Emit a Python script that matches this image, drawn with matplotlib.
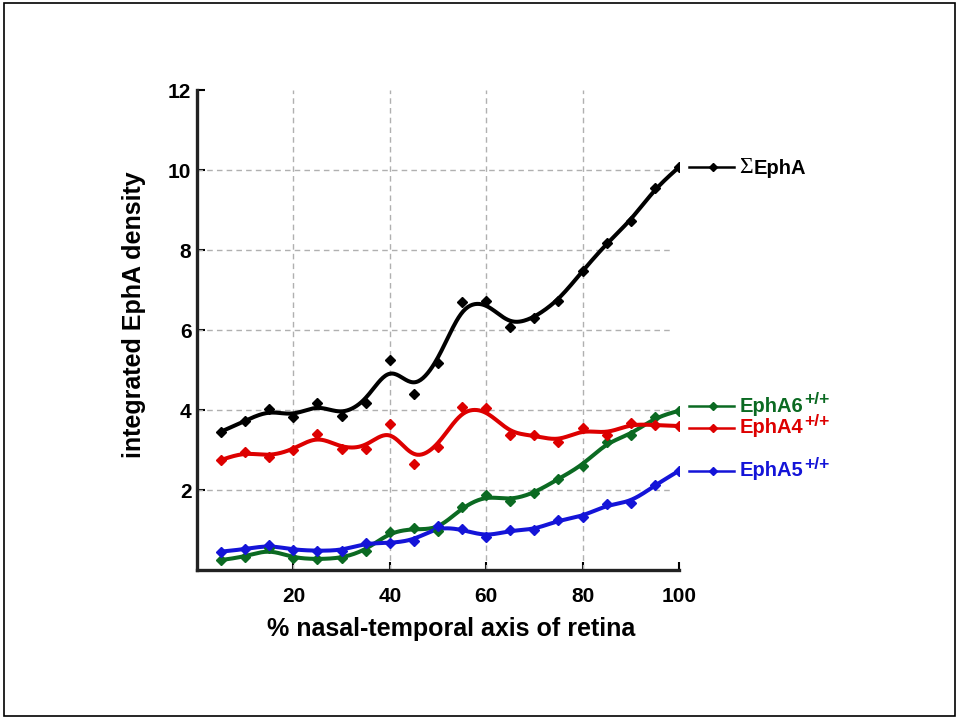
import matplotlib
matplotlib.use("Agg")
import matplotlib.pyplot as plt
import numpy as np
from matplotlib.patches import Rectangle

plt.rcParams["font.family"] = ["Liberation Sans", "DejaVu Sans"]

# % nasal-temporal position
position = [5, 10, 15, 20, 25, 30, 35, 40, 45, 50,
            55, 60, 65, 70, 75, 80, 85, 90, 95, 100]

sum_epha = [3.46, 3.73, 4.02, 3.82, 4.17, 3.85, 4.17, 5.25, 4.40, 5.18,
            6.71, 6.73, 6.07, 6.30, 6.73, 7.48, 8.17, 8.73, 9.54, 10.07]
epha4 = [2.75, 2.96, 2.83, 3.00, 3.40, 3.03, 3.03, 3.65, 2.65, 3.07,
         4.08, 4.04, 3.38, 3.38, 3.19, 3.54, 3.38, 3.67, 3.62, 3.60]
epha6 = [0.25, 0.33, 0.54, 0.29, 0.27, 0.29, 0.48, 0.96, 1.04, 0.98,
         1.58, 1.88, 1.73, 1.92, 2.28, 2.61, 3.20, 3.38, 3.82, 3.98]
epha5 = [0.46, 0.52, 0.63, 0.50, 0.48, 0.48, 0.68, 0.67, 0.73, 1.10,
         1.02, 0.82, 1.00, 1.00, 1.25, 1.33, 1.64, 1.68, 2.12, 2.48]

# values, colour, prefix, label, superscript, label height
series = [
    (sum_epha, "black", "Σ", "EphA", "", 10.07),
    (epha6, "#0b6a22", "", "EphA6", "+/+", 4.1),
    (epha4, "#dd0000", "", "EphA4", "+/+", 3.56),
    (epha5, "#1414d8", "", "EphA5", "+/+", 2.48),
]

xticks = [20, 40, 60, 80, 100]
yticks = [2, 4, 6, 8, 10, 12]


def smooth(x, y, grid, h=3.1):
    # gaussian-weighted local linear fit
    x = np.asarray(x, float)
    y = np.asarray(y, float)
    out = []
    for g in grid:
        w = np.exp(-0.5 * ((x - g) / h) ** 2)
        X = np.vstack([np.ones_like(x), x - g]).T
        W = np.diag(w)
        beta = np.linalg.solve(X.T @ W @ X, X.T @ W @ y)
        out.append(beta[0])
    return np.array(out)


fig = plt.figure(figsize=(9.59, 7.19), dpi=100)
fig.patches.append(Rectangle((0.004, 0.004), 0.992, 0.992, transform=fig.transFigure,
                             fill=False, edgecolor="black", linewidth=1.2))
ax = fig.add_axes([0.2054, 0.2072, 0.5026, 0.6676])

ax.hlines(yticks[:-1], 0, 98.7, colors="#b0b0b0", linestyles=(0, (4, 3)), linewidth=1)
ax.vlines(xticks[:-1], 0, 12, colors="#b0b0b0", linestyles=(0, (4, 3)), linewidth=1)

grid = np.linspace(position[0], position[-1], 400)
for values, color, prefix, name, sup, ly in series:
    ax.plot(grid, smooth(position, values, grid), color=color, linewidth=2.9, zorder=3)
    ax.plot(position, values, linestyle="none", marker="D", markersize=5.5,
            color=color, zorder=4)
    ax.plot([102, 111.5], [ly, ly], color=color, linewidth=1.8, clip_on=False)
    ax.plot([107], [ly], marker="D", markersize=4.5, color=color, clip_on=False)
    if prefix:
        pre = ax.text(112.5, ly, prefix, color=color, fontsize=17,
                      family=["Liberation Serif", "DejaVu Serif"], va="center", ha="left")
        base = ax.annotate(name, xy=(1, 0.45), xycoords=pre, xytext=(0.5, 0),
                           textcoords="offset points", color=color, fontsize=14.5,
                           fontweight="bold", va="center", ha="left")
    else:
        base = ax.text(112.5, ly, name, color=color, fontsize=14.5, fontweight="bold",
                       va="center", ha="left")
    if sup:
        ax.annotate(sup, xy=(1, 0.45), xycoords=base, xytext=(1, 0),
                    textcoords="offset points", color=color, fontsize=12.5,
                    fontweight="bold", va="bottom", ha="left")

ax.set_xlim(0, 100)
ax.set_ylim(0, 12)
ax.set_xticks(xticks)
ax.set_yticks(yticks)
ax.tick_params(direction="in", length=6, width=1.5, labelsize=15)
ax.tick_params(axis="x", pad=12)
ax.tick_params(axis="y", pad=4)
for lab in ax.get_xticklabels() + ax.get_yticklabels():
    lab.set_fontweight("bold")
for side in ["top", "right"]:
    ax.spines[side].set_visible(False)
for side in ["left", "bottom"]:
    ax.spines[side].set_linewidth(2.4)
    ax.spines[side].set_color("#222222")

ax.set_xlabel("% nasal-temporal axis of retina", fontsize=18, fontweight="bold")
ax.set_ylabel("integrated EphA density", fontsize=18, fontweight="bold")
ax.xaxis.set_label_coords(0.527, -0.097)
ax.yaxis.set_label_coords(-0.105, 0.531)

fig.savefig("out.png", dpi=100)
